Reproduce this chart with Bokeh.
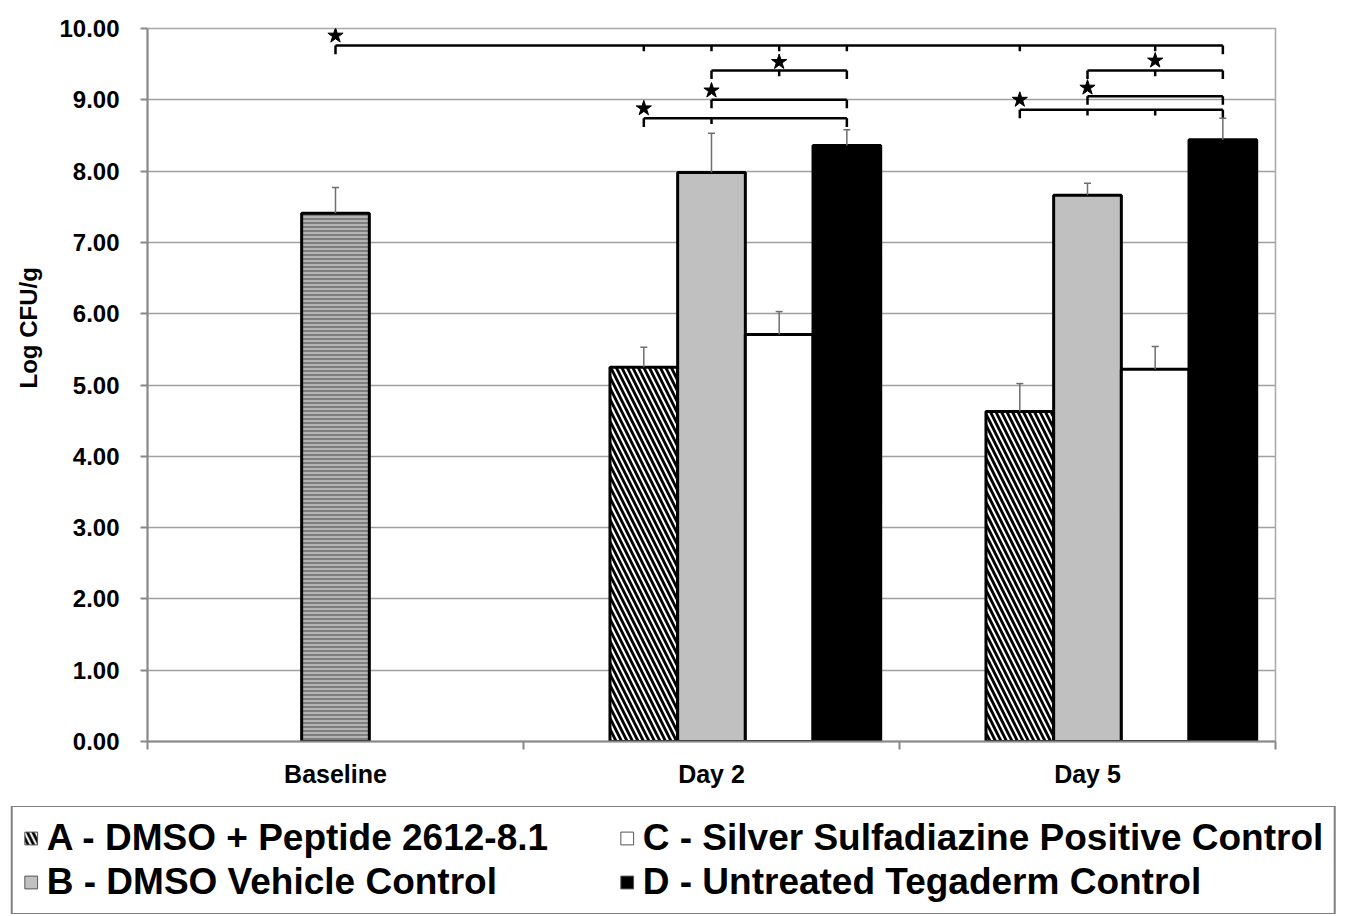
from bokeh.plotting import figure
from bokeh.models import (ColumnDataSource, FixedTicker, Whisker, TeeHead, Legend,
                          LegendItem, Title, Range1d, PrintfTickFormatter)
from bokeh.embed import file_html
from bokeh.resources import INLINE

# ---------------- data ----------------
categories = ["Baseline", "Day 2", "Day 5"]
series = ["A", "B", "C", "D"]
series_labels = ["A - DMSO + Peptide 2612-8.1",
                 "B - DMSO Vehicle Control",
                 "C - Silver Sulfadiazine Positive Control",
                 "D - Untreated Tegaderm Control"]

baseline_mean = 7.41
baseline_top = 7.77          # top of error bar

day2_mean = [5.25, 7.98, 5.71, 8.36]
day2_top = [5.53, 8.53, 6.03, 8.58]
day5_mean = [4.63, 7.66, 5.22, 8.44]
day5_top = [5.02, 7.83, 5.54, 8.74]

y_ticks = [0, 1, 2, 3, 4, 5, 6, 7, 8, 9, 10]

# significance brackets: start, end, level, intermediate ticks, star position, star level
bracket_start = [("Baseline", "base"), ("Day 2", "B"), ("Day 2", "B"), ("Day 2", "A"),
                 ("Day 5", "B"), ("Day 5", "B"), ("Day 5", "A")]
bracket_end = [("Day 5", "D"), ("Day 2", "D"), ("Day 2", "D"), ("Day 2", "D"),
               ("Day 5", "D"), ("Day 5", "D"), ("Day 5", "D")]
bracket_level = [9.76, 9.41, 9.00, 8.74, 9.41, 9.05, 8.86]
bracket_ticks = [[("Day 2", "A"), ("Day 2", "B"), ("Day 2", "C"), ("Day 2", "D"),
                  ("Day 5", "A"), ("Day 5", "C")],
                 [("Day 2", "C")], [], [("Day 2", "B")],
                 [("Day 5", "C")], [], [("Day 5", "B"), ("Day 5", "C")]]
star_pos = [("Baseline", "base"), ("Day 2", "C"), ("Day 2", "B"), ("Day 2", "A"),
            ("Day 5", "C"), ("Day 5", "B"), ("Day 5", "A")]
star_level = [9.90, 9.53, 9.13, 8.88, 9.55, 9.17, 9.00]

# ---------------- layout helpers ----------------
BAR_W = 0.18
slot = {"base": 0, "A": -1, "B": 0, "C": 1, "D": 2}


def xpos(key):
    cat, s = key
    return categories.index(cat) + slot[s] * BAR_W


FONT = "Liberation Sans"

p = figure(width=1340, height=806, frame_width=1128, frame_height=713,
           x_range=Range1d(-0.5, 2.5), y_range=Range1d(0, 10),
           output_backend="svg", toolbar_location=None,
           min_border_left=147, min_border_right=65, min_border_top=28, min_border_bottom=65)
p.background_fill_color = "white"
p.border_fill_color = "white"
p.outline_line_color = "#a8a8a8"
p.outline_line_width = 1.5

# grid
p.xgrid.grid_line_color = None
p.ygrid.grid_line_color = "#a0a0a0"
p.ygrid.grid_line_width = 1.5
p.ygrid.ticker = FixedTicker(ticks=y_ticks)

# y axis
p.yaxis.ticker = FixedTicker(ticks=y_ticks)
p.yaxis.formatter = PrintfTickFormatter(format="%.2f")
p.yaxis.major_label_text_font = FONT
p.yaxis.major_label_text_font_style = "bold"
p.yaxis.major_label_text_font_size = "24px"
p.yaxis.major_label_text_color = "black"
p.yaxis.axis_line_color = "#888888"
p.yaxis.axis_line_width = 2
p.yaxis.major_tick_line_color = "#888888"
p.yaxis.major_tick_line_width = 2
p.yaxis.major_tick_out = 7
p.yaxis.major_tick_in = 0
p.yaxis.minor_tick_line_color = None
p.yaxis.major_label_standoff = 21

# y title on the left, shifted upward like the original
p.add_layout(Title(text="Log CFU/g", align="left", offset=353, standoff=27,
                   vertical_align="middle",
                   text_font=FONT, text_font_style="bold", text_font_size="24px",
                   text_line_height=1.0, text_color="black"), "left")

# x axis
p.xaxis.ticker = FixedTicker(ticks=[0, 1, 2], minor_ticks=[-0.5, 0.5, 1.5, 2.5])
p.xaxis.major_label_overrides = {i: c for i, c in enumerate(categories)}
p.xaxis.major_label_text_font = FONT
p.xaxis.major_label_text_font_style = "bold"
p.xaxis.major_label_text_font_size = "25px"
p.xaxis.major_label_text_color = "black"
p.xaxis.axis_line_color = "#888888"
p.xaxis.axis_line_width = 2
p.xaxis.major_tick_line_color = None
p.xaxis.minor_tick_line_color = "#888888"
p.xaxis.minor_tick_line_width = 2
p.xaxis.minor_tick_out = 8
p.xaxis.minor_tick_in = 0
p.xaxis.major_label_standoff = 10

# ---------------- bars ----------------
styles = {
    "A": dict(fill_color="white", hatch_pattern="\\", hatch_color="black", hatch_scale=11, hatch_weight=2.8),
    "B": dict(fill_color="#c0c0c0"),
    "C": dict(fill_color="white"),
    "D": dict(fill_color="black"),
}

# baseline bar
base_src = ColumnDataSource(dict(x=[xpos(("Baseline", "base"))], top=[baseline_mean]))
p.vbar(x="x", top="top", bottom=0, width=BAR_W, source=base_src, fill_color="#b4b4b4",
       hatch_pattern="-", hatch_color="#6a6a6a", hatch_scale=4, hatch_weight=1.5,
       line_color="black", line_width=3)

err_x, err_lo, err_hi = [xpos(("Baseline", "base"))], [baseline_mean], [baseline_top]
for i, s in enumerate(series):
    xs = [xpos(("Day 2", s)), xpos(("Day 5", s))]
    tops = [day2_mean[i], day5_mean[i]]
    hi = [day2_top[i], day5_top[i]]
    src = ColumnDataSource(dict(x=xs, top=tops))
    p.vbar(x="x", top="top", bottom=0, width=BAR_W, source=src, line_color="black",
           line_width=3, **styles[s])
    err_x += xs
    err_lo += tops
    err_hi += hi

err_src = ColumnDataSource(dict(x=err_x, lo=err_lo, hi=err_hi))
p.add_layout(Whisker(source=err_src, base="x", lower="lo", upper="hi", dimension="height",
                     line_color="#6e6e6e", line_width=1.5, lower_head=None,
                     upper_head=TeeHead(size=7, line_color="#6e6e6e", line_width=1.5),
                     level="annotation"))

# ---------------- significance brackets ----------------
hx0, hx1, hy = [], [], []
tx, ty0, ty1 = [], [], []
END_T, MID_T = 0.12, 0.08
for k in range(len(bracket_level)):
    a, b, lev = xpos(bracket_start[k]), xpos(bracket_end[k]), bracket_level[k]
    hx0.append(a); hx1.append(b); hy.append(lev)
    for xx in (a, b):
        tx.append(xx); ty0.append(lev); ty1.append(lev - END_T)
    for t in bracket_ticks[k]:
        tx.append(xpos(t)); ty0.append(lev); ty1.append(lev - MID_T)

p.segment(x0=hx0, y0=hy, x1=hx1, y1=hy, line_color="black", line_width=2.5)
p.segment(x0=tx, y0=ty0, x1=tx, y1=ty1, line_color="black", line_width=2.5)
p.scatter(x=[xpos(s) for s in star_pos], y=star_level, marker="star", size=16,
          fill_color="black", line_color="black")

# ---------------- legend (own strip below the chart) ----------------
lg = figure(width=1346, height=108, x_range=Range1d(0, 1), y_range=Range1d(0, 1),
            output_backend="svg", toolbar_location=None, x_axis_type=None, y_axis_type=None,
            min_border_left=0, min_border_right=0, min_border_top=0, min_border_bottom=0)
lg.outline_line_color = None
lg.grid.grid_line_color = None
lg.background_fill_color = "white"
lg.border_fill_color = "white"

# legend swatches: one hidden sample each (outside the strip's visible range)
legend_items = []
for i, s in enumerate(series):
    swatch = lg.vbar(x=[5.0], top=[1.0], bottom=0, width=0.1, line_color="#555555",
                     line_width=1, **styles[s])
    legend_items.append(LegendItem(label=series_labels[i], renderers=[swatch]))

legend = Legend(items=legend_items, ncols=2, location="center",
                label_text_font=FONT, label_text_font_style="bold",
                label_text_font_size="37px", label_text_color="black",
                glyph_width=16, glyph_height=16, label_standoff=8, label_width=570,
                spacing=2, padding=10, margin=0,
                border_line_color="black", border_line_width=2,
                background_fill_color="white", background_fill_alpha=1.0)
lg.add_layout(legend, "center")

open("out.html", "w").write(file_html([p, lg], INLINE))
